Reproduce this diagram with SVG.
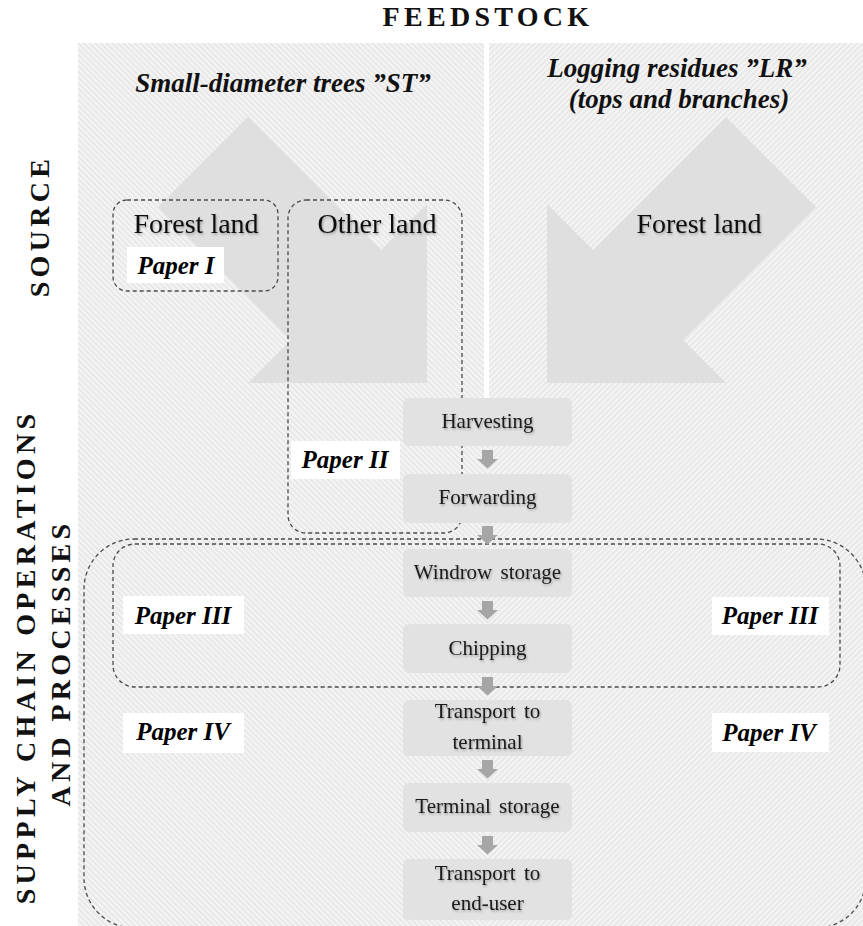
<svg xmlns="http://www.w3.org/2000/svg" width="863" height="926" viewBox="0 0 863 926">
<defs>
<pattern id="hatchL" width="4" height="4" patternUnits="userSpaceOnUse" patternTransform="rotate(-45)">
<rect width="4" height="4" fill="#f4f4f4"/>
<rect width="1.4" height="4" fill="#e3e3e3"/>
</pattern>
<pattern id="hatchR" width="4" height="4" patternUnits="userSpaceOnUse" patternTransform="rotate(45)">
<rect width="4" height="4" fill="#f4f4f4"/>
<rect width="1.4" height="4" fill="#e3e3e3"/>
</pattern>
<filter id="sh" x="-10%" y="-30%" width="130%" height="170%">
<feDropShadow dx="1" dy="1.5" stdDeviation="1" flood-color="#000" flood-opacity="0.3"/>
</filter>
<path id="sarrow" d="M-5.5,0 h11 v9 h5 l-10.5,9.5 l-10.5,-9.5 h5 z"/>
<style>
.head{font-family:"Liberation Serif","Times New Roman",serif;font-weight:bold;font-size:28px;letter-spacing:4.3px;fill:#111}
.sub{font-family:"Liberation Serif","Times New Roman",serif;font-weight:bold;font-style:italic;font-size:27px;fill:#111;text-anchor:middle}
.land{font-family:"Liberation Serif","Times New Roman",serif;font-size:28px;fill:#111;text-anchor:middle;filter:url(#sh)}
.paper{font-family:"Liberation Serif","Times New Roman",serif;font-weight:bold;font-style:italic;font-size:25px;fill:#000;text-anchor:middle}
.lbl{fill:#fff}
.dash{fill:none;stroke:#4a4a4a;stroke-width:1.3;stroke-dasharray:4 3}
.box{fill:#e2e2e2}
.btxt{font-family:"Liberation Serif","Times New Roman",serif;font-size:21px;fill:#1a1a1a;text-anchor:middle;word-spacing:3px;filter:url(#sh)}
.big{fill:#dfdfdf}
.sa{fill:#a6a6a6}
</style>
</defs>

<g id="background">
<rect x="0" y="0" width="863" height="926" fill="#fff"/>
<rect x="78" y="43" width="409" height="883" fill="url(#hatchL)"/>
<rect x="487" y="43" width="376" height="883" fill="url(#hatchR)"/>
<rect x="484" y="43" width="5" height="355" fill="#fff"/>
</g>

<g id="headings">
<text class="head" x="488" y="26" text-anchor="middle">FEEDSTOCK</text>
<text class="head" transform="translate(49,226) rotate(-90)" text-anchor="middle">SOURCE</text>
<text class="head" transform="translate(35,657) rotate(-90)" text-anchor="middle">SUPPLY CHAIN OPERATIONS</text>
<text class="head" transform="translate(70,663) rotate(-90)" text-anchor="middle">AND PROCESSES</text>
</g>

<g id="feedstock-st">
<text class="sub" x="283" y="92">Small-diameter trees ”ST”</text>
<polygon class="big" points="248,117 381,250 427,204 427,383 248,383 291,340 158,207"/>
</g>

<g id="feedstock-lr">
<text class="sub" x="677" y="77">Logging residues ”LR”</text>
<text class="sub" x="679" y="108">(tops and branches)</text>
<polygon class="big" points="726,117 593,250 547,204 547,383 726,383 683,340 816,207"/>
</g>

<g id="paper-iv">
<rect class="dash" x="84" y="539" width="782" height="389" rx="50"/>
<rect class="lbl" x="123" y="713" width="121" height="40"/>
<text class="paper" x="183" y="740">Paper IV</text>
<rect class="lbl" x="712" y="713" width="117" height="39"/>
<text class="paper" x="769" y="741">Paper IV</text>
</g>

<g id="paper-iii">
<rect class="dash" x="113" y="544" width="727" height="143" rx="22"/>
<rect class="lbl" x="123" y="596" width="121" height="38"/>
<text class="paper" x="183" y="624">Paper III</text>
<rect class="lbl" x="712" y="597" width="117" height="38"/>
<text class="paper" x="770" y="624">Paper III</text>
</g>

<g id="forest-land-st">
<rect class="dash" x="113" y="200" width="165" height="91" rx="14"/>
<text class="land" x="196" y="233">Forest land</text>
<rect class="lbl" x="127" y="247" width="97" height="36"/>
<text class="paper" x="176" y="274">Paper I</text>
</g>

<g id="other-land-st">
<rect class="dash" x="288" y="200" width="174" height="333" rx="18"/>
<text class="land" x="377" y="233">Other land</text>
<rect class="lbl" x="291" y="441" width="109" height="38"/>
<text class="paper" x="345" y="468">Paper II</text>
</g>

<g id="forest-land-lr">
<text class="land" x="699" y="233">Forest land</text>
</g>

<g id="harvesting">
<rect class="box" x="403" y="398" width="169" height="48" rx="6"/>
<text class="btxt" x="487.5" y="428">Harvesting</text>
</g>
<g id="forwarding">
<rect class="box" x="403" y="474" width="169" height="49" rx="6"/>
<text class="btxt" x="487.5" y="504">Forwarding</text>
</g>
<g id="windrow-storage">
<rect class="box" x="403" y="549" width="169" height="48" rx="6"/>
<text class="btxt" x="487.5" y="579">Windrow storage</text>
</g>
<g id="chipping">
<rect class="box" x="403" y="624" width="169" height="49" rx="6"/>
<text class="btxt" x="487.5" y="655">Chipping</text>
</g>
<g id="transport-terminal">
<rect class="box" x="403" y="700" width="169" height="56" rx="6"/>
<text class="btxt" x="487.5" y="718">Transport to</text>
<text class="btxt" x="487.5" y="749">terminal</text>
</g>
<g id="terminal-storage">
<rect class="box" x="403" y="783" width="169" height="49" rx="6"/>
<text class="btxt" x="487.5" y="813">Terminal storage</text>
</g>
<g id="transport-end-user">
<rect class="box" x="403" y="859" width="169" height="61" rx="6"/>
<text class="btxt" x="487.5" y="880">Transport to</text>
<text class="btxt" x="487.5" y="910">end-user</text>
</g>

<g id="connectors">
<use href="#sarrow" class="sa" x="487.5" y="450"/>
<use href="#sarrow" class="sa" x="487.5" y="526"/>
<use href="#sarrow" class="sa" x="487.5" y="601"/>
<use href="#sarrow" class="sa" x="487.5" y="677"/>
<use href="#sarrow" class="sa" x="487.5" y="760"/>
<use href="#sarrow" class="sa" x="487.5" y="836"/>
</g>
</svg>
